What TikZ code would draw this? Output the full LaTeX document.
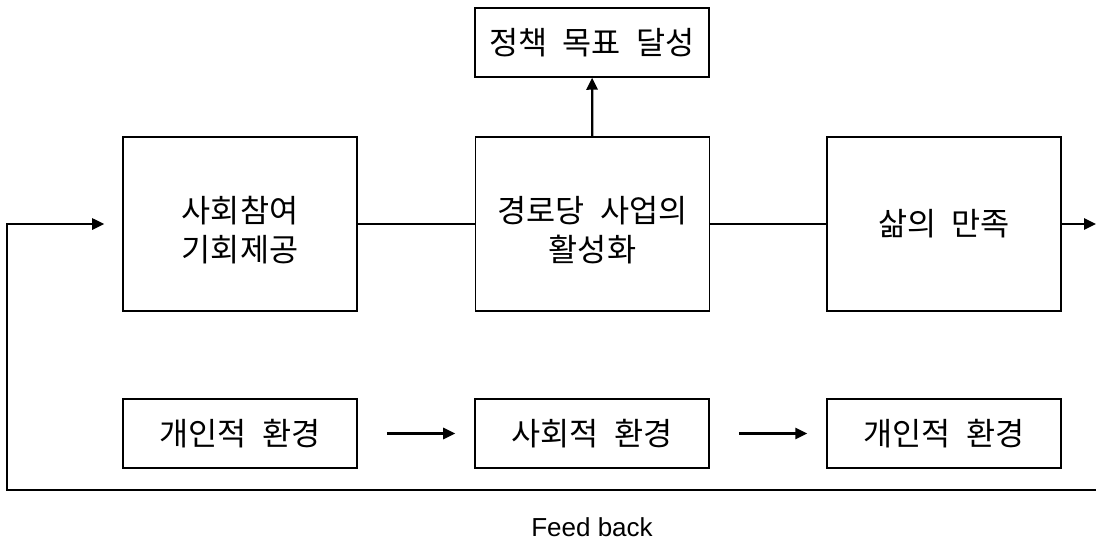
\documentclass[tikz,border=0pt]{standalone}
\usepackage{fontspec}
\setmainfont{Noto Sans CJK KR}[WordSpace=2.2]
\newfontfamily\latinfont{Liberation Sans}
\usetikzlibrary{arrows.meta}

% two lines, set a little below the middle of a box
\newcommand{\twolines}[2]{\raisebox{-7pt}[\height][\depth]{\begin{tabular}{@{}c@{}}#1\\#2\end{tabular}}}

\begin{document}
\begin{tikzpicture}[x=0.025cm, y=-0.025cm,
    box/.style={draw, line width=1.1pt, minimum width=5.85cm, inner sep=0pt,
        align=center, font=\fontsize{22.5}{28}\selectfont},
    bigbox/.style={box, minimum height=4.35cm},
    smallbox/.style={box, minimum height=1.725cm},
    arr/.style={-{Triangle[length=8.5pt, width=8pt]}, line width=1.6pt}]

    \useasboundingbox (0,0) rectangle (1096,548);

    % Goal on top
    \node[smallbox] (goal) at (592,42.5) {정책 목표 달성};

    % Main row
    \node[bigbox] (join) at (240,224) {\twolines{사회참여}{기회제공}};
    \node[bigbox] (senior) at (592.5,224) {\twolines{경로당 사업의}{활성화}};
    \node[bigbox] (life) at (944,224) {삶의 만족};

    % Environment row
    \node[smallbox] (envA) at (240,433.5) {개인적 환경};
    \node[smallbox] (envB) at (592,433.5) {사회적 환경};
    \node[smallbox] (envC) at (944,433.5) {개인적 환경};

    % Free ends of the feedback loop
    \coordinate (out) at (1096,224);
    \coordinate (fbR) at (1096,490);
    \coordinate (fbL) at (7,490);
    \coordinate (fbT) at (7,224);

    % Connectors
    \draw[line width=0.8pt] (join) -- (senior);
    \draw[line width=0.8pt] (senior) -- (life);
    \draw[arr] (senior) -- (goal);
    \draw[arr] (life) -- (out);
    \draw[arr, shorten <=0.725cm, shorten >=0.475cm] (envA) -- (envB);
    \draw[arr, shorten <=0.725cm, shorten >=0.475cm] (envB) -- (envC);

    % Feed back
    \draw[arr, line width=1.3pt, shorten >=0.45cm] (fbR) -- (fbL) -- (fbT) -- (join);
    \node[font=\latinfont\fontsize{18.5}{22}\selectfont] (fb) at (592,527) {Feed back};

\end{tikzpicture}
\end{document}
